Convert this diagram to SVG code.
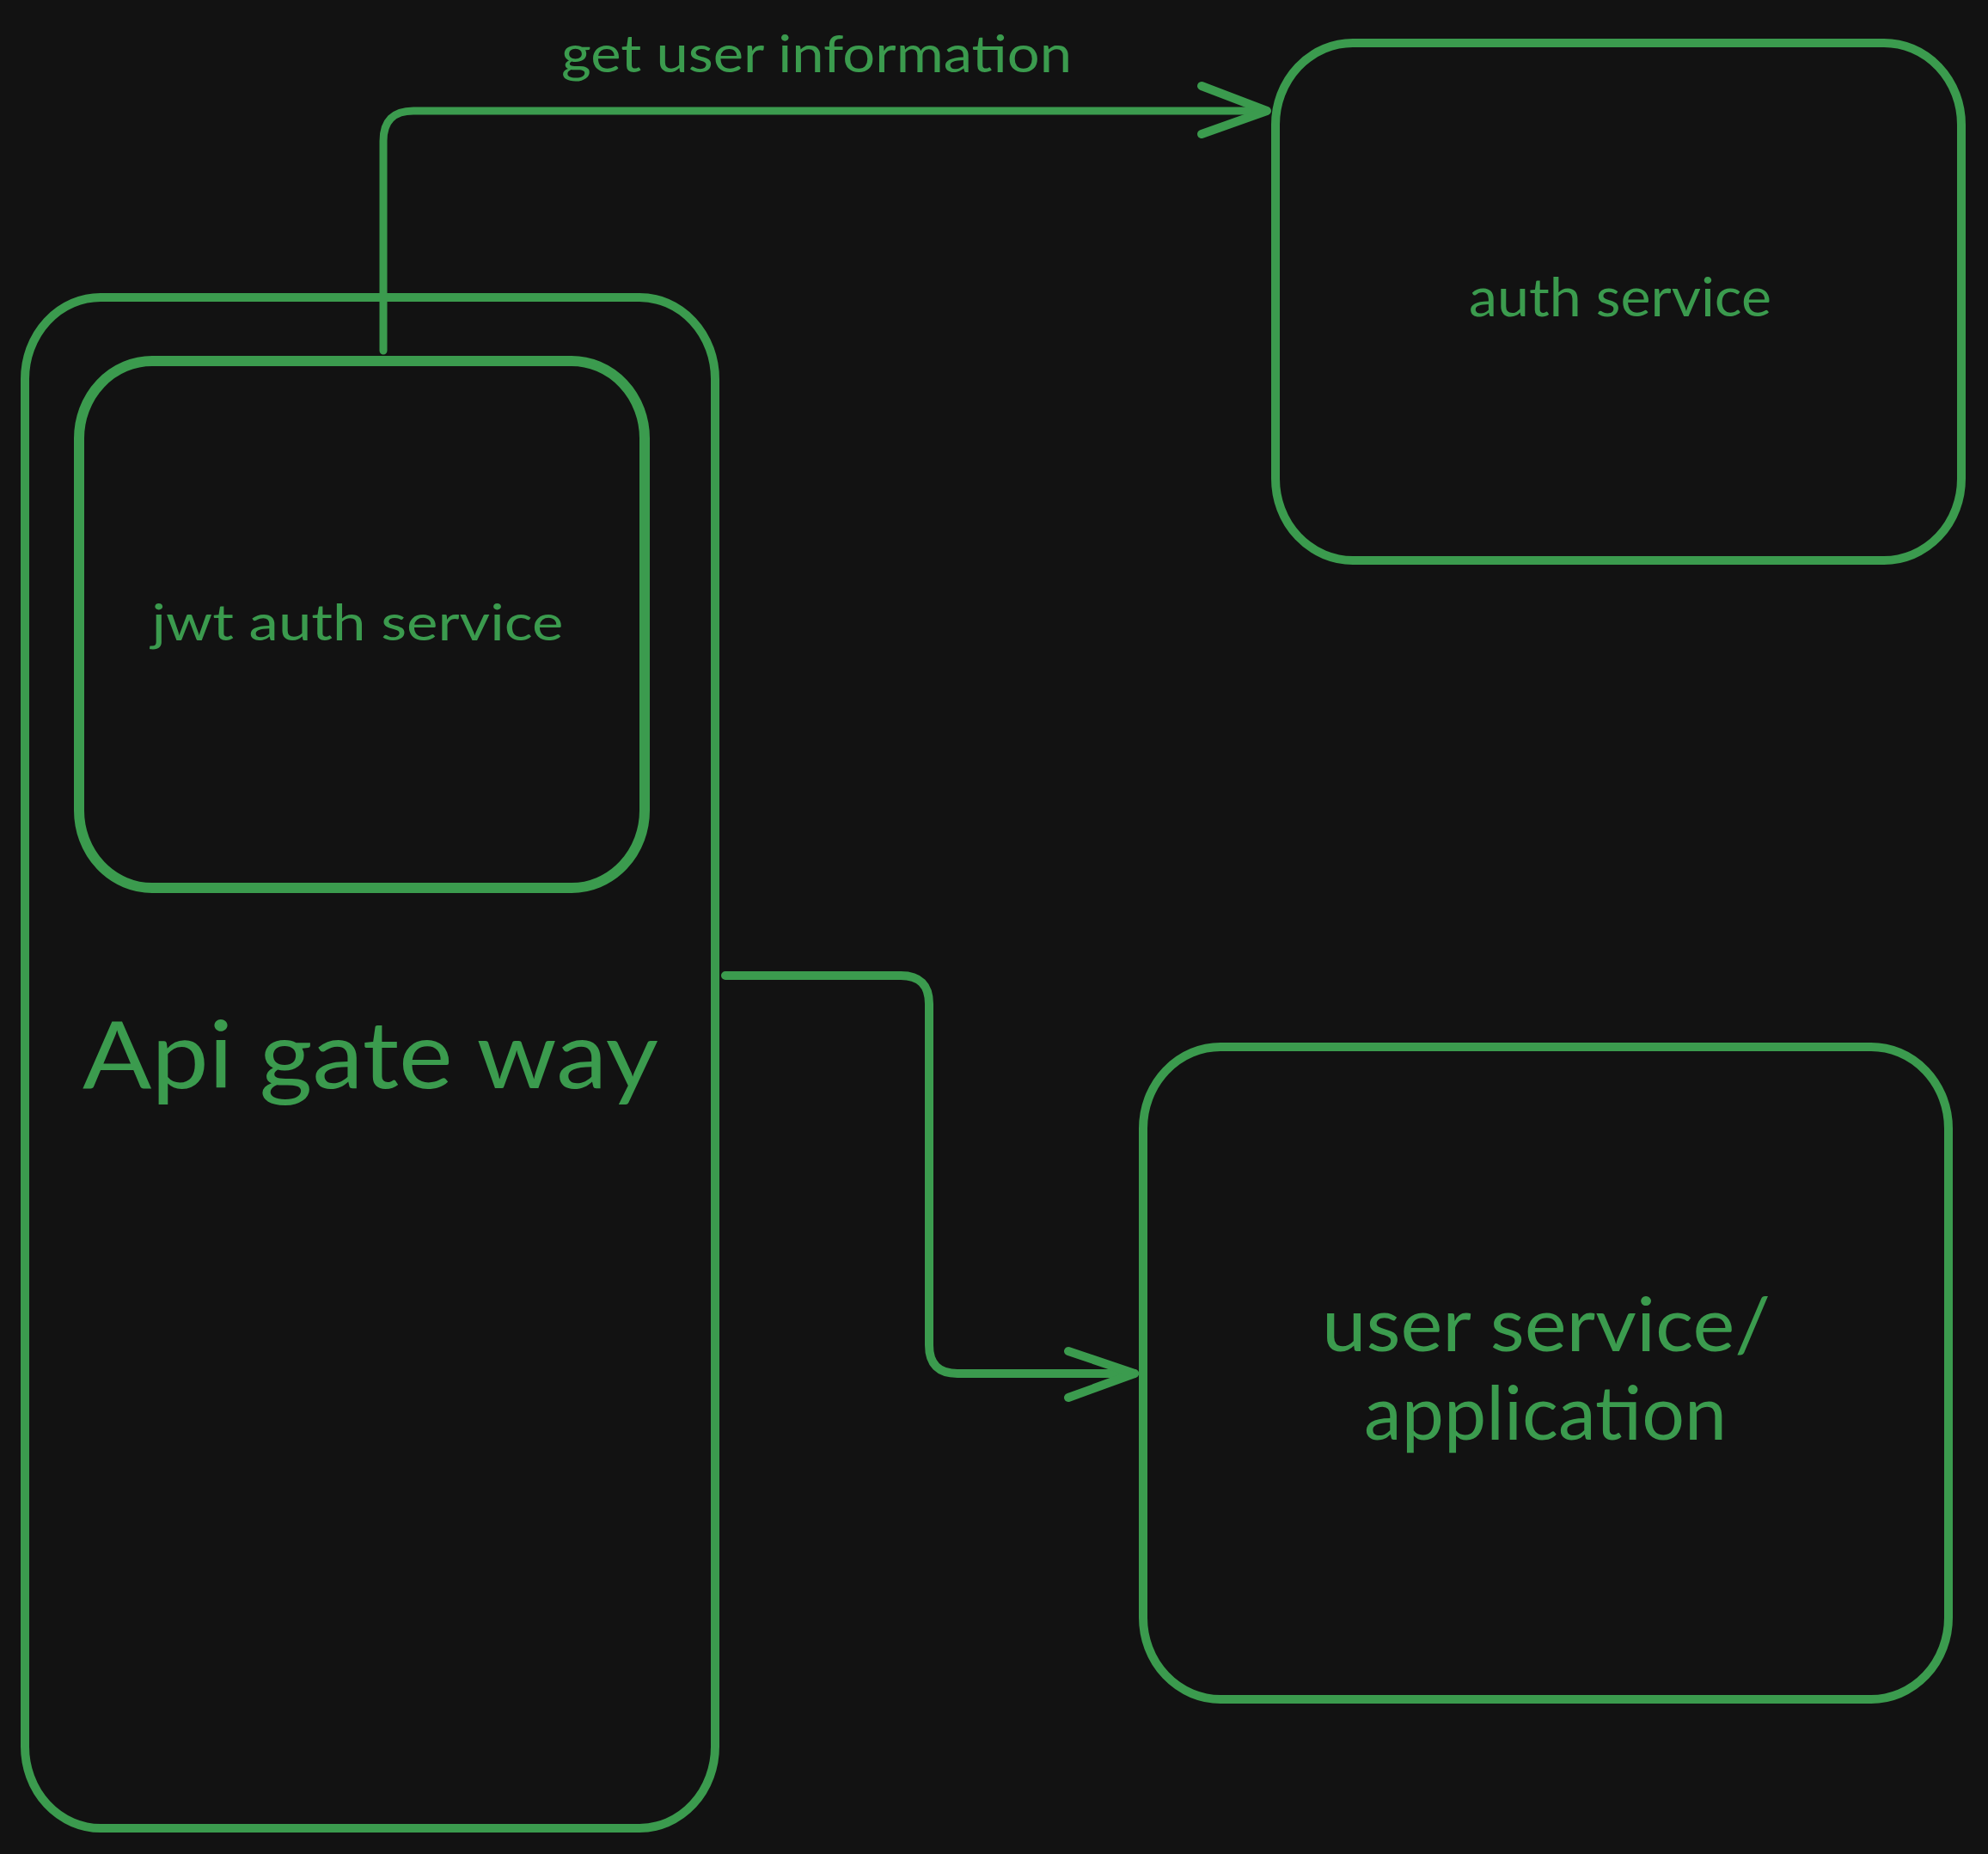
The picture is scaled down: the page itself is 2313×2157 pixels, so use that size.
<svg xmlns="http://www.w3.org/2000/svg" width="2313" height="2157" viewBox="0 0 2313 2157">
<style>
.box{fill:none;stroke:#3b9b4e;stroke-width:10;stroke-linejoin:round}
.conn{fill:none;stroke:#3b9b4e;stroke-width:10;stroke-linecap:round;stroke-linejoin:round}
.lbl{fill:#3b9b4e;font-family:Lato,"Liberation Sans",sans-serif;text-anchor:middle}
</style>
<rect width="2313" height="2157" fill="#121212"/>
<g id="api-gateway">
<rect class="box" x="29" y="346" width="803" height="1781" rx="88" ry="95"/>
<text class="lbl" x="431" y="1266" font-size="108" textLength="670" lengthAdjust="spacingAndGlyphs">Api gate way</text>
</g>
<g id="jwt-auth-service">
<rect class="box" x="92" y="420" width="658" height="613" rx="85" ry="90" style="stroke-width:12"/>
<text class="lbl" x="416" y="745" font-size="58" textLength="479" lengthAdjust="spacingAndGlyphs">jwt auth service</text>
</g>
<g id="auth-service">
<rect class="box" x="1484" y="50" width="798" height="602" rx="90" ry="95"/>
<text class="lbl" x="1885" y="368" font-size="62" textLength="352" lengthAdjust="spacingAndGlyphs">auth service</text>
</g>
<g id="user-service">
<rect class="box" x="1330" y="1218" width="937" height="759" rx="90" ry="95"/>
<text class="lbl" x="1799" y="1572" font-size="88" textLength="522" lengthAdjust="spacingAndGlyphs">user service/</text>
<text class="lbl" x="1798" y="1675" font-size="88" textLength="422" lengthAdjust="spacingAndGlyphs">application</text>
</g>
<g id="connectors">
<path class="conn" d="M 446 408 L 446 164 Q 446 129 481 129 L 1474 129" style="stroke-width:9"/>
<path class="conn" d="M 1398 100 L 1474 129 L 1398 156"/>
<text class="lbl" x="950" y="84" font-size="60" textLength="594" lengthAdjust="spacingAndGlyphs">get user information</text>
<path class="conn" d="M 844 1135 L 1048 1135 Q 1081 1135 1081 1168 L 1081 1565 Q 1081 1598 1114 1598 L 1320 1598"/>
<path class="conn" d="M 1243 1572 L 1320 1598 L 1243 1626"/>
</g>
</svg>
